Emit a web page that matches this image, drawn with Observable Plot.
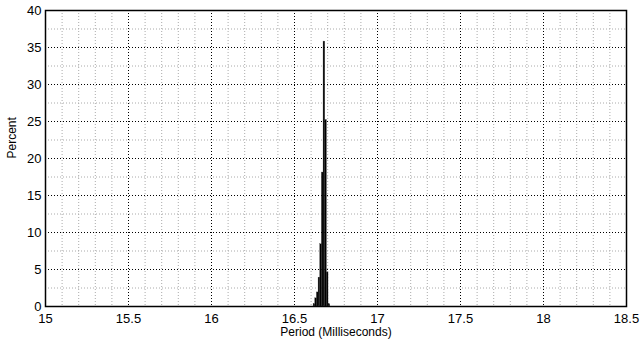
<!DOCTYPE html>
<html>
<head>
<meta charset="utf-8">
<script src="https://cdn.jsdelivr.net/npm/d3@7"></script>
<script src="https://cdn.jsdelivr.net/npm/@observablehq/plot@0.6"></script>
<style>
  html, body { margin: 0; padding: 0; background: #fff; }
  #chart svg { display: block; }
</style>
</head>
<body>
<div id="chart"></div>
<script>
// Histogram bin centres (milliseconds) and percent of samples in each bin
const binCenters = [16.62, 16.63, 16.64, 16.65, 16.66, 16.67, 16.68, 16.69, 16.70, 16.71];
const percents   = [0.3,   1.1,   1.9,   3.9,   8.4,   18.1,  35.8,  25.2,  4.6,   0.3];
const binWidth = 0.01;

const xTicks = [15, 15.5, 16, 16.5, 17, 17.5, 18, 18.5];
const yTicks = [0, 5, 10, 15, 20, 25, 30, 35, 40];
const xMinor = d3.range(15.1, 18.5, 0.1).map(v => +v.toFixed(1)).filter(v => !xTicks.includes(v));
const yMinor = d3.range(2.5, 40, 5);
const xLabel = "Period (Milliseconds)";
const yLabel = "Percent";

const bins = binCenters.map((c, i) => ({x1: c - binWidth / 2, x2: c + binWidth / 2, y: percents[i]}));

const font = "'Liberation Sans', Arial, Helvetica, sans-serif";

const chart = Plot.plot({
  width: 640,
  height: 340,
  marginLeft: 45,
  marginRight: 14,
  marginTop: 10,
  marginBottom: 34,
  style: {fontFamily: font, fontSize: "13px", color: "#000", background: "#fff"},
  x: {domain: [15, 18.5], ticks: xTicks, tickFormat: d => String(d), tickSize: 0, tickPadding: 7, label: null},
  y: {domain: [0, 40], ticks: yTicks, tickFormat: d => String(d), tickSize: 0, tickPadding: 4, label: null},
  marks: [
    Plot.ruleX(xMinor, {stroke: "#aaa", strokeWidth: 1, strokeDasharray: "1,2"}),
    Plot.ruleY(yMinor, {stroke: "#aaa", strokeWidth: 1, strokeDasharray: "1,2"}),
    Plot.ruleX(xTicks.slice(1, -1), {stroke: "#000", strokeWidth: 1, strokeDasharray: "1,2"}),
    Plot.ruleY(yTicks.slice(1, -1), {stroke: "#000", strokeWidth: 1, strokeDasharray: "1,2"}),
    Plot.rectY(bins, {x1: "x1", x2: "x2", y: "y", fill: "#000", stroke: "#333", strokeWidth: 0.3}),
    Plot.frame({stroke: "#000", strokeWidth: 1.5}),
    Plot.text([xLabel], {text: d => d, frameAnchor: "bottom", dy: 29, fontSize: 12, fill: "#000"}),
    Plot.text([yLabel], {text: d => d, frameAnchor: "left", dx: -33, rotate: -90, fontSize: 12, fill: "#000"})
  ]
});

document.getElementById("chart").appendChild(chart);
</script>
</body>
</html>
